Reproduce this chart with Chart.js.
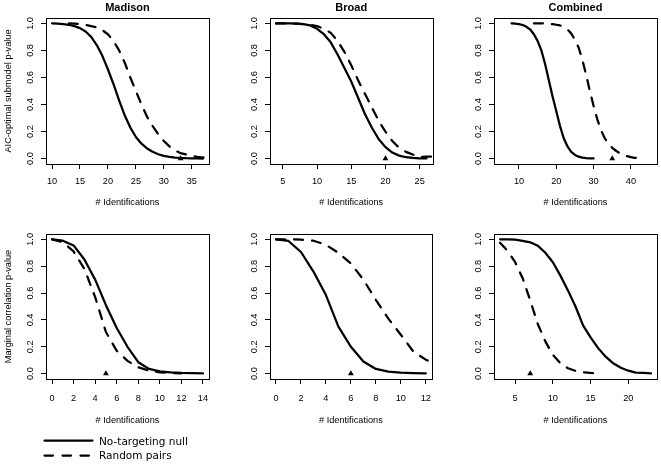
<!DOCTYPE html>
<html>
<head>
<meta charset="utf-8">
<script src="https://cdn.jsdelivr.net/npm/chart.js@4.4.1/dist/chart.umd.min.js"></script>
<style>
  body { margin: 0; background: #fff; }
  #page { position: relative; width: 661px; height: 464px; overflow: hidden; }
  canvas { position: absolute; }
  .leg { position: absolute; font-family: "DejaVu Sans", sans-serif; font-size: 10.5px; color: #000; line-height: 12px; }
</style>
</head>
<body>
<div id="page">
  <canvas id="p1" width="220" height="216" style="left:0;top:0"></canvas>
  <canvas id="p2" width="220" height="216" style="left:220px;top:0"></canvas>
  <canvas id="p3" width="221" height="216" style="left:440px;top:0"></canvas>
  <canvas id="p4" width="220" height="216" style="left:0;top:216px"></canvas>
  <canvas id="p5" width="220" height="216" style="left:220px;top:216px"></canvas>
  <canvas id="p6" width="221" height="216" style="left:440px;top:216px"></canvas>
  <svg style="position:absolute;left:0;top:0" width="661" height="464">
    <line x1="44.5" y1="440.5" x2="92.5" y2="440.5" stroke="#000" stroke-width="2.25" stroke-linecap="round"/>
    <line x1="44.5" y1="455.5" x2="92.5" y2="455.5" stroke="#000" stroke-width="2.25" stroke-linecap="round" stroke-dasharray="8.5 9.5"/>
  </svg>
  <div class="leg" style="left:99px;top:435px">No-targeting null</div>
  <div class="leg" style="left:99px;top:449px">Random pairs</div>
</div>
<script>
// top row: AIC-optimal submodel p-value
const madisonAicNullX = [10,11,12,13,14,15,16,17,18,19,20,21,22,23,24,25,26,27,28,29,30,31,32,33,34,35,36,37];
const madisonAicNull = [1.0,0.998,0.995,0.99,0.98,0.965,0.94,0.9,0.84,0.76,0.66,0.55,0.43,0.32,0.23,0.16,0.11,0.075,0.05,0.032,0.02,0.013,0.008,0.005,0.003,0.002,0.001,0.0];
const madisonAicPairsX = [13,14,15,16,17,18,19,20,21,22,23,24,25,26,27,28,29,30,31,32,33,34,35,36,37,38];
const madisonAicPairs = [1.0,0.998,0.995,0.99,0.98,0.97,0.95,0.92,0.87,0.8,0.71,0.6,0.5,0.4,0.31,0.24,0.18,0.13,0.09,0.06,0.04,0.03,0.02,0.012,0.008,0.01];

const broadAicNullX = [4,5,6,7,8,9,10,11,12,13,14,15,16,17,18,19,20,21,22,23,24,25,26];
const broadAicNull = [1.0,1.0,1.0,0.998,0.995,0.985,0.96,0.92,0.86,0.77,0.67,0.57,0.45,0.33,0.23,0.145,0.085,0.045,0.022,0.01,0.005,0.002,0.001];
const broadAicPairsX = [4,5,6,7,8,9,10,11,12,13,14,15,16,17,18,19,20,21,22,23,24,25,26,27];
const broadAicPairs = [1.0,1.0,0.999,0.998,0.995,0.99,0.98,0.96,0.93,0.87,0.79,0.69,0.58,0.48,0.38,0.28,0.2,0.13,0.08,0.05,0.03,0.012,0.015,0.015];

const combinedAicNullX = [8,9,10,11,12,13,14,15,16,17,18,19,20,21,22,23,24,25,26,27,28,29,30];
const combinedAicNull = [1.0,0.998,0.995,0.988,0.975,0.955,0.92,0.87,0.8,0.7,0.58,0.46,0.35,0.24,0.15,0.09,0.05,0.027,0.014,0.007,0.004,0.002,0.001];
const combinedAicPairsX = [14,15,16,17,18,19,20,21,22,23,24,25,26,27,28,29,30,31,32,33,34,35,36,37,38,39,40,41,42];
const combinedAicPairs = [1.0,1.0,1.0,0.999,0.998,0.995,0.99,0.985,0.975,0.955,0.925,0.88,0.82,0.73,0.62,0.5,0.39,0.29,0.21,0.15,0.11,0.08,0.058,0.04,0.027,0.018,0.011,0.006,0.003];

// bottom row: marginal correlation p-value
const madisonCorNullX = [0,1,2,3,4,5,6,7,8,9,10,11,12,13,14];
const madisonCorNull = [1.0,0.99,0.955,0.85,0.7,0.51,0.34,0.2,0.085,0.035,0.017,0.01,0.005,0.003,0.001];
const madisonCorPairsX = [0,1,2,3,4,5,6,7,8,9,10,11,12];
const madisonCorPairs = [1.0,0.98,0.91,0.78,0.57,0.31,0.17,0.095,0.047,0.022,0.01,0.005,0.002];

const broadCorNullX = [0,1,2,3,4,5,6,7,8,9,10,11,12];
const broadCorNull = [1.0,0.988,0.906,0.76,0.585,0.35,0.2,0.09,0.035,0.015,0.007,0.003,0.001];
const broadCorPairsX = [0,1,2,3,4,5,6,7,8,9,10,11,12,13];
const broadCorPairs = [1.0,1.0,0.998,0.99,0.96,0.9,0.82,0.7,0.55,0.41,0.29,0.165,0.104,0.06];

const combinedCorNullX = [3,4,5,6,7,8,9,10,11,12,13,14,15,16,17,18,19,20,21,22,23];
const combinedCorNull = [1.0,1.0,0.998,0.988,0.978,0.953,0.9,0.83,0.73,0.62,0.5,0.36,0.27,0.19,0.126,0.077,0.044,0.022,0.007,0.005,0.002];
const combinedCorPairsX = [3,4,5,6,7,8,9,10,11,12,13,14,15,16];
const combinedCorPairs = [0.975,0.915,0.83,0.71,0.545,0.37,0.24,0.14,0.077,0.04,0.02,0.01,0.005,0.002];

// observed value marked with a triangle on each panel
const observed = [33, 20, 35, 5, 6, 7];

// tick labels
const yTicks = [0, 0.2, 0.4, 0.6, 0.8, 1.0];
const xTicks = [
  [10, 15, 20, 25, 30, 35],
  [5, 10, 15, 20, 25],
  [10, 20, 30, 40],
  [0, 2, 4, 6, 8, 10, 12, 14],
  [0, 2, 4, 6, 8, 10, 12],
  [5, 10, 15, 20]
];
const titles = ['Madison', 'Broad', 'Combined'];
const yTitles = ['AIC-optimal submodel p-value', 'Marginal correlation p-value'];

const FONT = '"Liberation Sans", Arial, Helvetica, sans-serif';

function pts(xs, ys) {
  return xs.map((x, i) => ({x: x, y: ys[i]}));
}

const boxPlugin = {
  id: 'box',
  afterDatasetsDraw(chart) {
    const a = chart.chartArea, ctx = chart.ctx;
    ctx.save();
    ctx.strokeStyle = '#000';
    ctx.lineWidth = 1;
    const l = Math.round(a.left) + 0.5, t = Math.round(a.top) + 0.5;
    const r = Math.round(a.right) + 0.5, b = Math.round(a.bottom) + 0.5;
    ctx.strokeRect(l, t, r - l, b - t);
    ctx.restore();
  }
};

const cols = [
  {axisW: 46, padRight: 11},
  {axisW: 50, padRight: 7.5},
  {axisW: 54, padRight: 4}
];
const rows = [
  {xAxisH: 44, padBottom: 8, tickPad: 7.2},
  {xAxisH: 46.5, padBottom: 6.5, tickPad: 8.8}
];

function panel(idx, nullX, nullY, pairX, pairY, xmin, xmax) {
  const col = cols[idx % 3], row = rows[Math.floor(idx / 3)];
  const top = idx < 3;
  const tickFont = {family: FONT, size: 9.2};
  new Chart(document.getElementById('p' + (idx + 1)), {
    type: 'line',
    data: {
      datasets: [
        {data: pts(nullX, nullY), borderColor: '#000', borderWidth: 2.25,
         borderCapStyle: 'round', borderJoinStyle: 'round', clip: 0},
        {data: pts(pairX, pairY), borderColor: '#000', borderWidth: 2.25, borderDash: [9, 9],
         borderCapStyle: 'round', borderJoinStyle: 'round', clip: 0},
        {type: 'scatter', data: [{x: observed[idx], y: 0}], pointStyle: 'triangle',
         pointRadius: 3.4, backgroundColor: '#000', borderColor: '#000', borderWidth: 0}
      ]
    },
    options: {
      responsive: false,
      animation: false,
      devicePixelRatio: 1,
      elements: {point: {radius: 0}, line: {tension: 0}},
      layout: {padding: {left: 0, right: col.padRight, top: top ? 0 : 18, bottom: row.padBottom}},
      plugins: {
        legend: {display: false},
        tooltip: {enabled: false},
        title: {
          display: top,
          text: top ? titles[idx] : '',
          fullSize: false,
          color: '#000',
          font: {family: FONT, size: 11, weight: 'bold', lineHeight: 1.2},
          padding: {top: 1, bottom: 3.8}
        }
      },
      scales: {
        x: {
          type: 'linear', min: xmin, max: xmax,
          afterBuildTicks: s => { s.ticks = xTicks[idx].map(v => ({value: v})); },
          afterFit: s => { s.height = row.xAxisH; },
          ticks: {color: '#000', font: tickFont, padding: row.tickPad, maxRotation: 0, autoSkip: false},
          grid: {drawOnChartArea: false, tickLength: 5, color: '#000', lineWidth: 1},
          border: {color: '#000', width: 1},
          title: {display: true, text: '# Identifications', color: '#000', font: tickFont, padding: 0}
        },
        y: {
          type: 'linear', min: -0.04, max: 1.04,
          afterBuildTicks: s => { s.ticks = yTicks.map(v => ({value: v})); },
          afterFit: s => { s.width = col.axisW; },
          ticks: {color: '#000', font: tickFont, minRotation: 90, maxRotation: 90, crossAlign: 'center',
                  padding: 4.6, autoSkip: false, callback: v => v.toFixed(1)},
          grid: {drawOnChartArea: false, tickLength: 5, color: '#000', lineWidth: 1},
          border: {color: '#000', width: 1},
          title: {display: idx % 3 === 0, text: yTitles[top ? 0 : 1], color: '#000',
                  font: tickFont, padding: {top: 3, bottom: 0}}
        }
      }
    },
    plugins: [boxPlugin]
  });
}

panel(0, madisonAicNullX, madisonAicNull, madisonAicPairsX, madisonAicPairs, 8.92, 38.08);
panel(1, broadAicNullX, broadAicNull, broadAicPairsX, broadAicPairs, 3.12, 26.88);
panel(2, combinedAicNullX, combinedAicNull, combinedAicPairsX, combinedAicPairs, 3.3, 47);
panel(3, madisonCorNullX, madisonCorNull, madisonCorPairsX, madisonCorPairs, -0.56, 14.56);
panel(4, broadCorNullX, broadCorNull, broadCorPairsX, broadCorPairs, -0.48, 12.48);
panel(5, combinedCorNullX, combinedCorNull, combinedCorPairsX, combinedCorPairs, 2.2, 23.8);
</script>
</body>
</html>
